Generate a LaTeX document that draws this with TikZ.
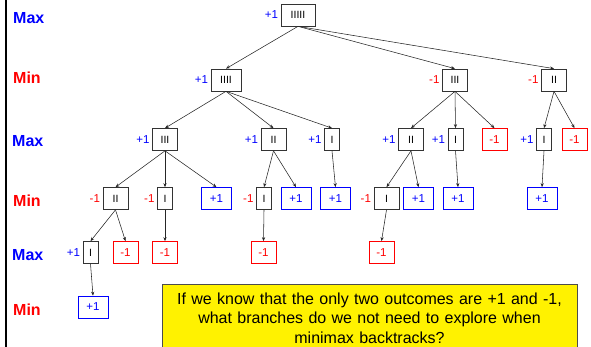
\documentclass[tikz,border=0pt]{standalone}
\usepackage{fontspec}
\setmainfont{Liberation Sans}
\usetikzlibrary{arrows.meta}
\begin{document}
\begin{tikzpicture}[x=1pt,y=-1pt,
  label distance=2.5pt,
  box/.style={draw=black!80, line width=0.7pt, minimum height=22pt, inner sep=0pt,
    font=\fontsize{10.5}{12}\selectfont, text=black},
  wa/.style={box, minimum width=15pt},
  wb/.style={box, minimum width=25pt},
  wd/.style={box, minimum width=30pt},
  we/.style={box, minimum width=34pt},
  lab/.style={font=\fontsize{11.5}{13}\selectfont, inner sep=0pt},
  pl/.style={label={[lab,text=blue]left:+1}},
  mi/.style={label={[lab,text=red]left:-1}},
  vp/.style={box, draw=blue, text=blue, minimum width=30pt, font=\fontsize{11.5}{13}\selectfont},
  vm/.style={box, draw=red, text=red, minimum width=25pt, font=\fontsize{11.5}{13}\selectfont},
  edge/.style={draw=black!85, line width=0.55pt, -{Stealth[length=4pt,width=3.2pt]}},
  lvl/.style={anchor=west, font=\bfseries\fontsize{16}{18}\selectfont, inner sep=0pt},
  qbox/.style={draw=black!70, line width=0.8pt, fill=yellow, anchor=north,
    text width=400pt, inner xsep=7.5pt, inner ysep=8.5pt, align=center,
    font=\fontsize{16}{19.5}\selectfont}
]
\useasboundingbox (0,0) rectangle (591,347);
\clip (0,0) rectangle (591,347);
\draw[line width=2.2pt] (6,0) -- (6,347);

% level labels
\node[lvl,text=blue] (l0) at (13,18.5) {Max};
\node[lvl,text=red] (l1) at (13,78) {Min};
\node[lvl,text=blue] (l2) at (12,141.5) {Max};
\node[lvl,text=red] (l3) at (13,201) {Min};
\node[lvl,text=blue] (l4) at (12,255.5) {Max};
\node[lvl,text=red] (l5) at (13,309.5) {Min};

% level 0
\node[we,pl] (r) at (298,15) {IIIII};
% level 1
\node[wd,pl] (a1) at (226,80) {IIII};
\node[wb,mi] (a2) at (455,80) {III};
\node[wb,mi] (a3) at (554,80) {II};
% level 2
\node[wb,pl] (b1) at (165,139.5) {III};
\node[wb,pl] (b2) at (273.5,139.5) {II};
\node[wa,pl] (b3) at (332,139.5) {I};
\node[wb,pl] (b4) at (411,139.5) {II};
\node[wa,pl] (b5) at (455.5,139.5) {I};
\node[vm] (b6) at (494.5,139.5) {-1};
\node[wa,pl] (b7) at (544,139.5) {I};
\node[vm] (b8) at (574.5,139.5) {-1};
% level 3
\node[wb,mi] (c1) at (115.5,198.5) {II};
\node[wa,mi] (c2) at (165,198.5) {I};
\node[vp] (c3) at (216.5,198.5) {+1};
\node[wa,mi] (c4) at (264,198.5) {I};
\node[vp] (c5) at (296,198.5) {+1};
\node[vp] (c6) at (335.5,198.5) {+1};
\node[wb,mi] (c7) at (386.5,198.5) {I};
\node[vp] (c8) at (418.5,198.5) {+1};
\node[vp] (c9) at (458,198.5) {+1};
\node[vp] (c10) at (542,198.5) {+1};
% level 4
\node[wa,pl] (d1) at (90.5,252.5) {I};
\node[vm] (d2) at (125.5,252.5) {-1};
\node[vm] (d3) at (165,252.5) {-1};
\node[vm] (d4) at (263.5,252.5) {-1};
\node[vm] (d5) at (381.5,252.5) {-1};
% level 5
\node[vp] (e1) at (93,307) {+1};

% edges
\foreach \p/\c in {r/a1, r/a2, r/a3,
  a1/b1, a1/b2, a1/b3, a2/b4, a2/b5, a2/b6, a3/b7, a3/b8,
  b1/c1, b1/c2, b1/c3, b2/c4, b2/c5, b3/c6, b4/c7, b4/c8, b5/c9, b7/c10,
  c1/d1, c1/d2, c2/d3, c4/d4, c7/d5, d1/e1}
  \draw[edge] (\p.south) -- (\c.north);

% question box
\node[qbox] (q) at (369.5,284) {If we know that the only two outcomes are +1 and -1,\\
what branches do we not need to explore when\\
minimax backtracks?\\ \strut};
\end{tikzpicture}
\end{document}
